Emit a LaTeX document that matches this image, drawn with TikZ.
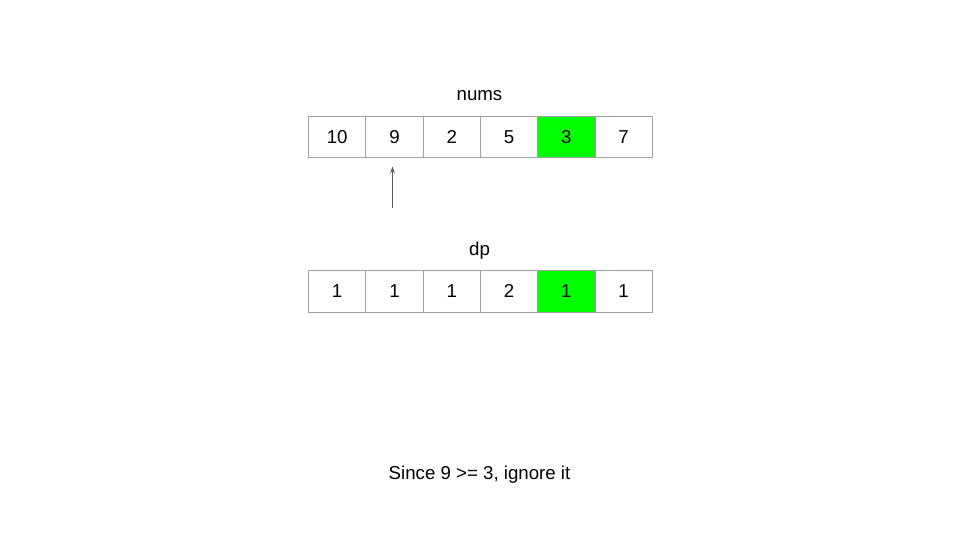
\documentclass[tikz,border=0pt]{standalone}
\usepackage{fontspec}
\setmainfont{Liberation Sans}
\usetikzlibrary{arrows.meta}
\definecolor{cellgray}{HTML}{A0A0A0}
\definecolor{arrowgray}{HTML}{595959}
\definecolor{higreen}{HTML}{00FF00}
\begin{document}
\begin{tikzpicture}[x=0.75pt,y=-0.75pt,
  cell/.style={draw=cellgray,line width=0.75pt,minimum width=57.3*0.75pt,minimum height=41.5*0.75pt,inner sep=0pt,font=\fontsize{14}{16}\selectfont,anchor=north west},
  lbl/.style={font=\fontsize{14}{16}\selectfont,inner sep=0pt,anchor=base},
  hl/.style={fill=higreen}]
\useasboundingbox (0,0) rectangle (960,540);
\foreach \v [count=\i from 0] in {10,9,2,5,3,7}{
  \ifnum\i=4
    \node[cell,hl] (n\i) at ({308+57.3*\i},115.5) {\v};
  \else
    \node[cell] (n\i) at ({308+57.3*\i},115.5) {\v};
  \fi
}
\foreach \v [count=\i from 0] in {1,1,1,2,1,1}{
  \ifnum\i=4
    \node[cell,hl] (d\i) at ({308+57.3*\i},270) {\v};
  \else
    \node[cell] (d\i) at ({308+57.3*\i},270) {\v};
  \fi
}
\node[lbl] (numslbl) at (479.5,100) {nums};
\node[lbl] (dplbl) at (479.5,255.5) {dp};
\node[lbl] (caption) at (479.5,479) {Since 9 >= 3, ignore it};
\coordinate (tail) at (392.5,207.5);
\coordinate (head) at (392.5,166.5);
\draw[arrowgray,line width=0.75pt,-{Stealth[length=5pt,width=3.5pt]}] (tail) -- (head);
\end{tikzpicture}
\end{document}
